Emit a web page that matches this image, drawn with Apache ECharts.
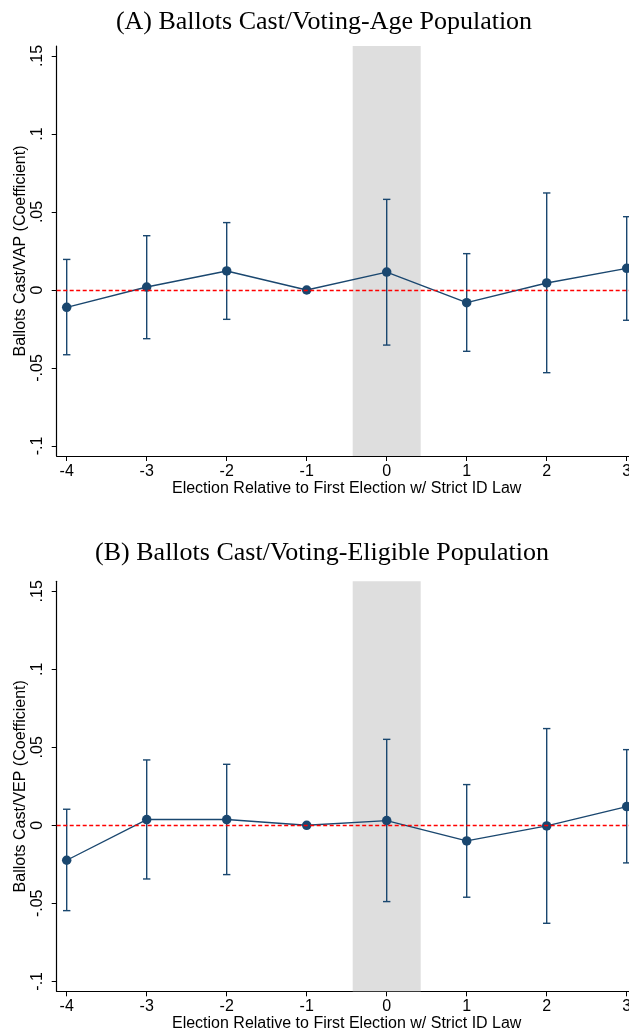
<!DOCTYPE html>
<html>
<head>
<meta charset="utf-8">
<script src="https://cdn.jsdelivr.net/npm/echarts@6/dist/echarts.min.js"></script>
<style>html,body{margin:0;padding:0;background:#fff;overflow:hidden}#c{width:640px;height:1036px}</style>
</head>
<body>
<div id="c"></div>
<script>
const elections = [-4, -3, -2, -1, 0, 1, 2, 3];
const yTicks = [-0.1, -0.05, 0, 0.05, 0.1, 0.15];
const yTickLabels = ['-.1', '-.05', '0', '.05', '.1', '.15'];
const titles = ['(A) Ballots Cast/Voting-Age Population', '(B) Ballots Cast/Voting-Eligible Population'];
const yNames = ['Ballots Cast/VAP (Coefficient)', 'Ballots Cast/VEP (Coefficient)'];
const xName = 'Election Relative to First Election w/ Strict ID Law';

const vapCoef = [-0.0111, 0.0019, 0.0122, 0, 0.0115, -0.0081, 0.0045, 0.0139];
const vapLow  = [-0.0415, -0.0312, -0.0188, 0, -0.0353, -0.0393, -0.0530, -0.0194];
const vapHigh = [0.0196, 0.0348, 0.0432, 0, 0.0581, 0.0233, 0.0622, 0.0470];

const vepCoef = [-0.0224, 0.0037, 0.0037, 0, 0.0030, -0.0100, -0.0004, 0.0120];
const vepLow  = [-0.0547, -0.0344, -0.0316, 0, -0.0489, -0.0461, -0.0628, -0.0241];
const vepHigh = [0.0103, 0.0419, 0.0391, 0, 0.0551, 0.0261, 0.0620, 0.0485];

const bandRange = [-0.425, 0.425];

const NAVY = '#1a476f';
const FONT = '"Liberation Sans", Arial, sans-serif';
const panels = [
  {coef: vapCoef, low: vapLow, high: vapHigh, top: 46},
  {coef: vepCoef, low: vepLow, high: vepHigh, top: 581.3}
];
const titleTops = [4.5, 535];
const titleLefts = [319, 317];

const chart = echarts.init(document.getElementById('c'), null, {renderer: 'canvas'});
const grid = [], xAxis = [], yAxis = [], series = [], title = [];
panels.forEach((p, i) => {
  title.push({
    text: titles[i], left: titleLefts[i], textAlign: 'center', top: titleTops[i],
    textStyle: {fontFamily: '"Liberation Serif", "Times New Roman", serif', fontSize: 26, fontWeight: 'normal', color: '#000'}
  });
  grid.push({left: 56.7, top: p.top, width: 580, height: 410, containLabel: false});
  xAxis.push({
    type: 'value', gridIndex: i, min: -4.125, max: 3.125,
    name: xName, nameLocation: 'middle', nameGap: 24.5, nameMoveOverlap: false,
    nameTextStyle: {fontFamily: FONT, fontSize: 16, color: '#000'},
    axisLine: {show: true, onZero: false, lineStyle: {color: '#000', width: 1.2}},
    axisTick: {show: true, length: 5, lineStyle: {color: '#000'}, customValues: elections},
    axisLabel: {fontFamily: FONT, fontSize: 16, color: '#000', margin: 7.5, customValues: elections},
    splitLine: {show: false}
  });
  yAxis.push({
    type: 'value', gridIndex: i, min: -0.1064, max: 0.1564,
    name: yNames[i], nameLocation: 'middle', nameGap: 28, nameRotate: 90, nameMoveOverlap: false,
    nameTextStyle: {fontFamily: FONT, fontSize: 16, color: '#000'},
    axisLine: {show: true, onZero: false, lineStyle: {color: '#000', width: 1.2}},
    axisTick: {show: true, length: 5, lineStyle: {color: '#000'}, customValues: yTicks},
    axisLabel: {
      fontFamily: FONT, fontSize: 16, color: '#000', rotate: 90, margin: 10.7,
      customValues: yTicks,
      formatter: v => { const k = yTicks.findIndex(t => Math.abs(t - v) < 1e-9); return k >= 0 ? yTickLabels[k] : ''; }
    },
    splitLine: {show: false}
  });
  series.push({
    type: 'line', xAxisIndex: i, yAxisIndex: i, data: [], silent: true, z: 1,
    markArea: {silent: true, itemStyle: {color: '#dedede'}, data: [[{xAxis: bandRange[0]}, {xAxis: bandRange[1]}]]},
    markLine: {silent: true, symbol: 'none', label: {show: false},
      lineStyle: {color: '#ff0000', type: [4, 2.5], width: 1.3}, data: [{yAxis: 0}]}
  });
  series.push({
    type: 'custom', xAxisIndex: i, yAxisIndex: i, z: 3,
    data: elections.map((x, k) => [x, p.low[k], p.high[k]]),
    renderItem: (params, api) => {
      const lo = api.coord([api.value(0), api.value(1)]);
      const hi = api.coord([api.value(0), api.value(2)]);
      const w = 3.7;
      const st = {stroke: NAVY, lineWidth: 1.4, fill: null};
      return {type: 'group', children: [
        {type: 'line', shape: {x1: lo[0], y1: lo[1], x2: hi[0], y2: hi[1]}, style: st},
        {type: 'line', shape: {x1: lo[0] - w, y1: lo[1], x2: lo[0] + w, y2: lo[1]}, style: st},
        {type: 'line', shape: {x1: hi[0] - w, y1: hi[1], x2: hi[0] + w, y2: hi[1]}, style: st}
      ]};
    }
  });
  series.push({
    type: 'line', xAxisIndex: i, yAxisIndex: i, z: 4,
    data: elections.map((x, k) => [x, p.coef[k]]),
    symbol: 'circle', symbolSize: 9.5, showSymbol: true,
    lineStyle: {color: NAVY, width: 1.4}, itemStyle: {color: NAVY}
  });
});

chart.setOption({animation: false, backgroundColor: '#fff', title, grid, xAxis, yAxis, series});
</script>
</body>
</html>
